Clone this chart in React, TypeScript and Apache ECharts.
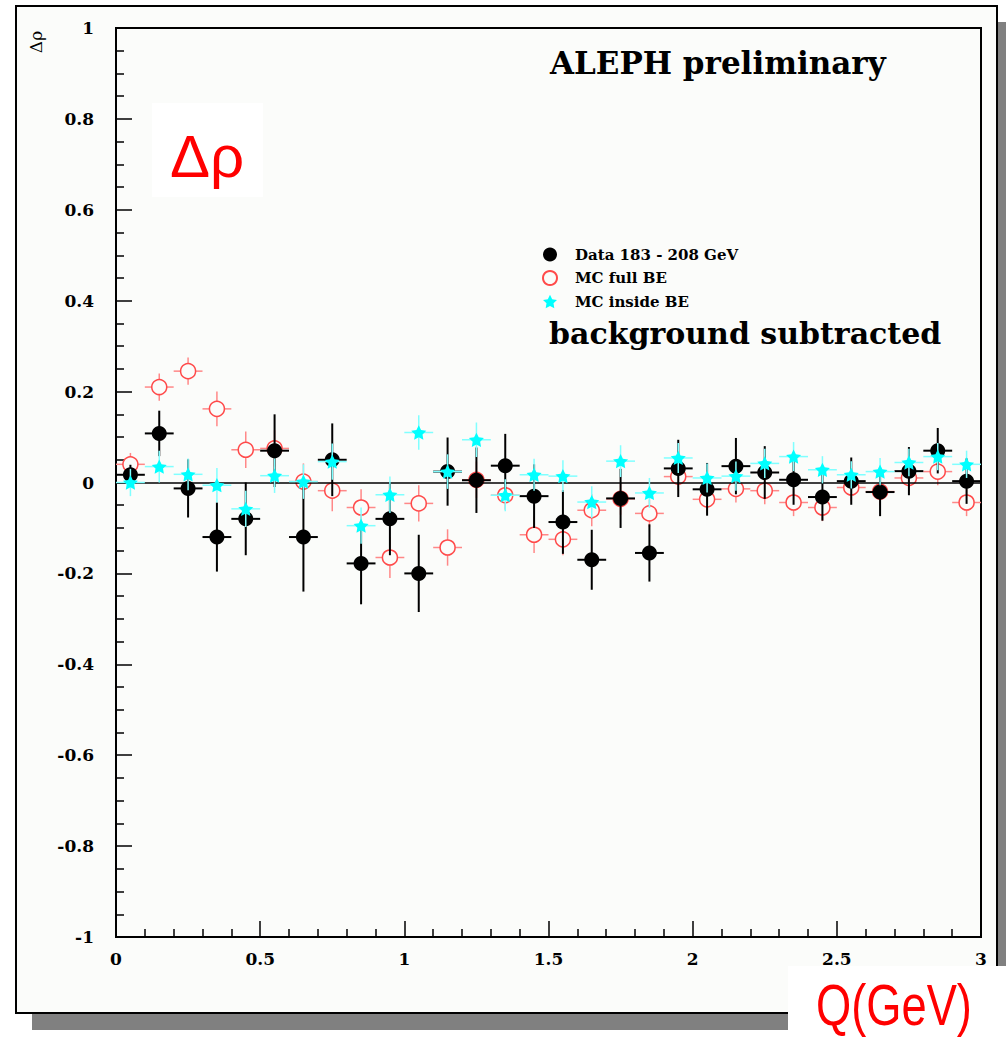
import React, { useEffect, useRef } from "react";
import * as echarts from "echarts";

const binCenters = [0.05, 0.15, 0.25, 0.35, 0.45, 0.55, 0.65, 0.75, 0.85, 0.95, 1.05, 1.15, 1.25, 1.35, 1.45, 1.55, 1.65, 1.75, 1.85, 1.95, 2.05, 2.15, 2.25, 2.35, 2.45, 2.55, 2.65, 2.75, 2.85, 2.95];
const dataValues = [0.017, 0.108, -0.013, -0.12, -0.08, 0.07, -0.12, 0.05, -0.178, -0.08, -0.2, 0.024, 0.005, 0.037, -0.03, -0.087, -0.17, -0.035, -0.155, 0.031, -0.015, 0.036, 0.022, 0.006, -0.032, 0.003, -0.021, 0.025, 0.07, 0.003];
const dataErrors = [0.022, 0.05, 0.064, 0.076, 0.08, 0.08, 0.12, 0.08, 0.09, 0.08, 0.085, 0.075, 0.072, 0.07, 0.07, 0.07, 0.066, 0.065, 0.063, 0.063, 0.058, 0.062, 0.058, 0.055, 0.052, 0.052, 0.053, 0.053, 0.05, 0.05];
const fullBEValues = [0.04, 0.21, 0.245, 0.162, 0.072, 0.075, 0.002, -0.018, -0.055, -0.165, -0.046, -0.143, 0.006, -0.028, -0.115, -0.125, -0.061, -0.036, -0.068, 0.013, -0.037, -0.014, -0.018, -0.044, -0.055, -0.011, -0.02, 0.01, 0.024, -0.044];
const fullBEErrors = [0.025, 0.03, 0.03, 0.038, 0.04, 0.04, 0.04, 0.045, 0.04, 0.045, 0.04, 0.04, 0.04, 0.032, 0.04, 0.035, 0.035, 0.035, 0.03, 0.03, 0.03, 0.03, 0.03, 0.03, 0.03, 0.03, 0.03, 0.03, 0.03, 0.03];
const insideBEValues = [0.0, 0.035, 0.018, -0.006, -0.058, 0.015, 0.002, 0.046, -0.095, -0.027, 0.11, 0.024, 0.094, -0.028, 0.017, 0.014, -0.043, 0.047, -0.023, 0.054, 0.01, 0.014, 0.042, 0.057, 0.028, 0.017, 0.024, 0.044, 0.057, 0.04];
const insideBEErrors = [0.03, 0.035, 0.035, 0.038, 0.04, 0.038, 0.038, 0.04, 0.04, 0.04, 0.038, 0.038, 0.038, 0.035, 0.035, 0.035, 0.035, 0.035, 0.033, 0.033, 0.032, 0.032, 0.032, 0.032, 0.03, 0.03, 0.03, 0.03, 0.03, 0.03];
const halfBin = 0.05;

const seriesNames = ["Data 183 - 208 GeV", "MC full BE", "MC inside BE"];
const starPath = "path://M0,-10 L2.94,-4.05 9.51,-3.09 4.76,1.55 5.88,8.09 0,5 -5.88,8.09 -4.76,1.55 -9.51,-3.09 -2.94,-4.05Z";

const SERIF = "'DejaVu Serif', 'Liberation Serif', serif";
const SANS = "'Liberation Sans', Arial, sans-serif";

function errorSeries(name: string, vals: number[], errs: number[], color: string, width: number, z: number) {
  return {
    type: "custom",
    name: name + " err",
    z,
    silent: true,
    data: binCenters.map((x, i) => [x, vals[i], errs[i]]),
    renderItem: (params: any, api: any) => {
      const x = api.value(0);
      const y = api.value(1);
      const e = api.value(2);
      const top = api.coord([x, y + e]);
      const bot = api.coord([x, y - e]);
      const l = api.coord([x - halfBin, y]);
      const r = api.coord([x + halfBin, y]);
      return {
        type: "group",
        children: [
          { type: "line", shape: { x1: top[0], y1: top[1], x2: bot[0], y2: bot[1] }, style: { stroke: color, lineWidth: width } },
          { type: "line", shape: { x1: l[0], y1: l[1], x2: r[0], y2: r[1] }, style: { stroke: color, lineWidth: width } },
        ],
      };
    },
  };
}

export default function App() {
  const ref = useRef<HTMLDivElement>(null);
  useEffect(() => {
    if (!ref.current) return;
    const chart = echarts.init(ref.current, null, { renderer: "svg" });
    const option: any = {
      animation: false,
      backgroundColor: "#ffffff",
      grid: { left: 116, right: 25, top: 28, bottom: 101, show: true, borderColor: "#000", borderWidth: 2, backgroundColor: "transparent" },
      xAxis: {
        type: "value", min: 0, max: 3, interval: 0.5,
        axisLine: { show: true, onZero: false, lineStyle: { color: "#000", width: 2 } },
        axisTick: { show: true, inside: true, length: 16, lineStyle: { color: "#000", width: 1.5 } },
        minorTick: { show: true, splitNumber: 5, length: 8, lineStyle: { color: "#000", width: 1.5 } },
        splitLine: { show: false },
        axisLabel: { margin: 13, color: "#000", fontFamily: SERIF, fontWeight: "bold", fontSize: 17 },
      },
      yAxis: {
        type: "value", min: -1, max: 1, interval: 0.2,
        axisLine: { show: true, onZero: false, lineStyle: { color: "#000", width: 2 } },
        axisTick: { show: true, inside: true, length: 16, lineStyle: { color: "#000", width: 1.5 } },
        minorTick: { show: true, splitNumber: 4, length: 8, lineStyle: { color: "#000", width: 1.5 } },
        splitLine: { show: false },
        axisLabel: { margin: 22, color: "#000", fontFamily: SERIF, fontWeight: "bold", fontSize: 17 },
      },
      legend: {
        data: seriesNames,
        orient: "vertical",
        left: 537,
        top: 242,
        itemWidth: 14,
        itemHeight: 14,
        itemGap: 8,
        selectedMode: false,
        textStyle: { fontFamily: SERIF, fontWeight: "bold", fontSize: 15, color: "#000", padding: [0, 0, 0, 13] },
      },
      graphic: [
        { type: "rect", z: -100, shape: { x: 32, y: 22, width: 980, height: 1008 }, style: { fill: "#808080" } },
        { type: "rect", z: -99, shape: { x: 16, y: 6, width: 981, height: 1007 }, style: { fill: "#fbfcfa", stroke: "#000", lineWidth: 2 } },
        { type: "text", z: 50, x: 36, y: 42, rotation: Math.PI / 2, style: { text: "Δρ", fontFamily: SERIF, fontSize: 17, fill: "#000", align: "center", verticalAlign: "middle" } },
        { type: "text", z: 50, x: 550, y: 63, style: { text: "ALEPH preliminary", fontFamily: SERIF, fontWeight: "bold", fontSize: 31, fill: "#000", verticalAlign: "middle" } },
        { type: "text", z: 50, x: 549, y: 333, style: { text: "background subtracted", fontFamily: SERIF, fontWeight: "bold", fontSize: 30, fill: "#000", verticalAlign: "middle" } },
        { type: "rect", z: 60, shape: { x: 152, y: 103, width: 111, height: 94 }, style: { fill: "#ffffff" } },
        { type: "text", z: 61, x: 207, y: 156, style: { text: "Δρ", fontFamily: SANS, fontSize: 60, fill: "#ff0000", align: "center", verticalAlign: "middle", textShadowColor: "#aaaaaa", textShadowOffsetX: 2, textShadowOffsetY: 2, textShadowBlur: 0 } },
        { type: "rect", z: 60, shape: { x: 788, y: 966, width: 218, height: 72 }, style: { fill: "#ffffff" } },
        { type: "text", z: 61, x: 894, y: 1005, scaleX: 0.78, style: { text: "Q(GeV)", fontFamily: SANS, fontSize: 58, fill: "#ff0000", align: "center", verticalAlign: "middle", textShadowColor: "#aaaaaa", textShadowOffsetX: 2, textShadowOffsetY: 2, textShadowBlur: 0 } },
      ],
      series: [
        {
          type: "line", name: "zero", data: [], silent: true, z: 1,
          markLine: { silent: true, symbol: "none", label: { show: false }, lineStyle: { color: "#000", width: 1.5, type: "solid" }, data: [{ yAxis: 0 }] },
        },
        errorSeries(seriesNames[1], fullBEValues, fullBEErrors, "#ff8888", 1.5, 3),
        {
          type: "scatter", name: seriesNames[1], z: 4, symbol: "circle", symbolSize: 15,
          itemStyle: { color: "#fbfcfa", borderColor: "#ff4a4a", borderWidth: 1.5, opacity: 1 },
          data: binCenters.map((x, i) => [x, fullBEValues[i]]),
        },
        errorSeries(seriesNames[0], dataValues, dataErrors, "#000000", 2, 5),
        {
          type: "scatter", name: seriesNames[0], z: 6, symbol: "circle", symbolSize: 15,
          itemStyle: { color: "#000000", opacity: 1 },
          data: binCenters.map((x, i) => [x, dataValues[i]]),
        },
        errorSeries(seriesNames[2], insideBEValues, insideBEErrors, "#80ffff", 1.5, 7),
        {
          type: "scatter", name: seriesNames[2], z: 8, symbol: starPath, symbolKeepAspect: true, symbolSize: 15,
          itemStyle: { color: "#00ffff", opacity: 1 },
          data: binCenters.map((x, i) => [x, insideBEValues[i]]),
        },
      ],
    };
    chart.setOption(option);
    return () => chart.dispose();
  }, []);
  return <div ref={ref} style={{ position: "absolute", left: 0, top: 0, width: 1006, height: 1038 }} />;
}
